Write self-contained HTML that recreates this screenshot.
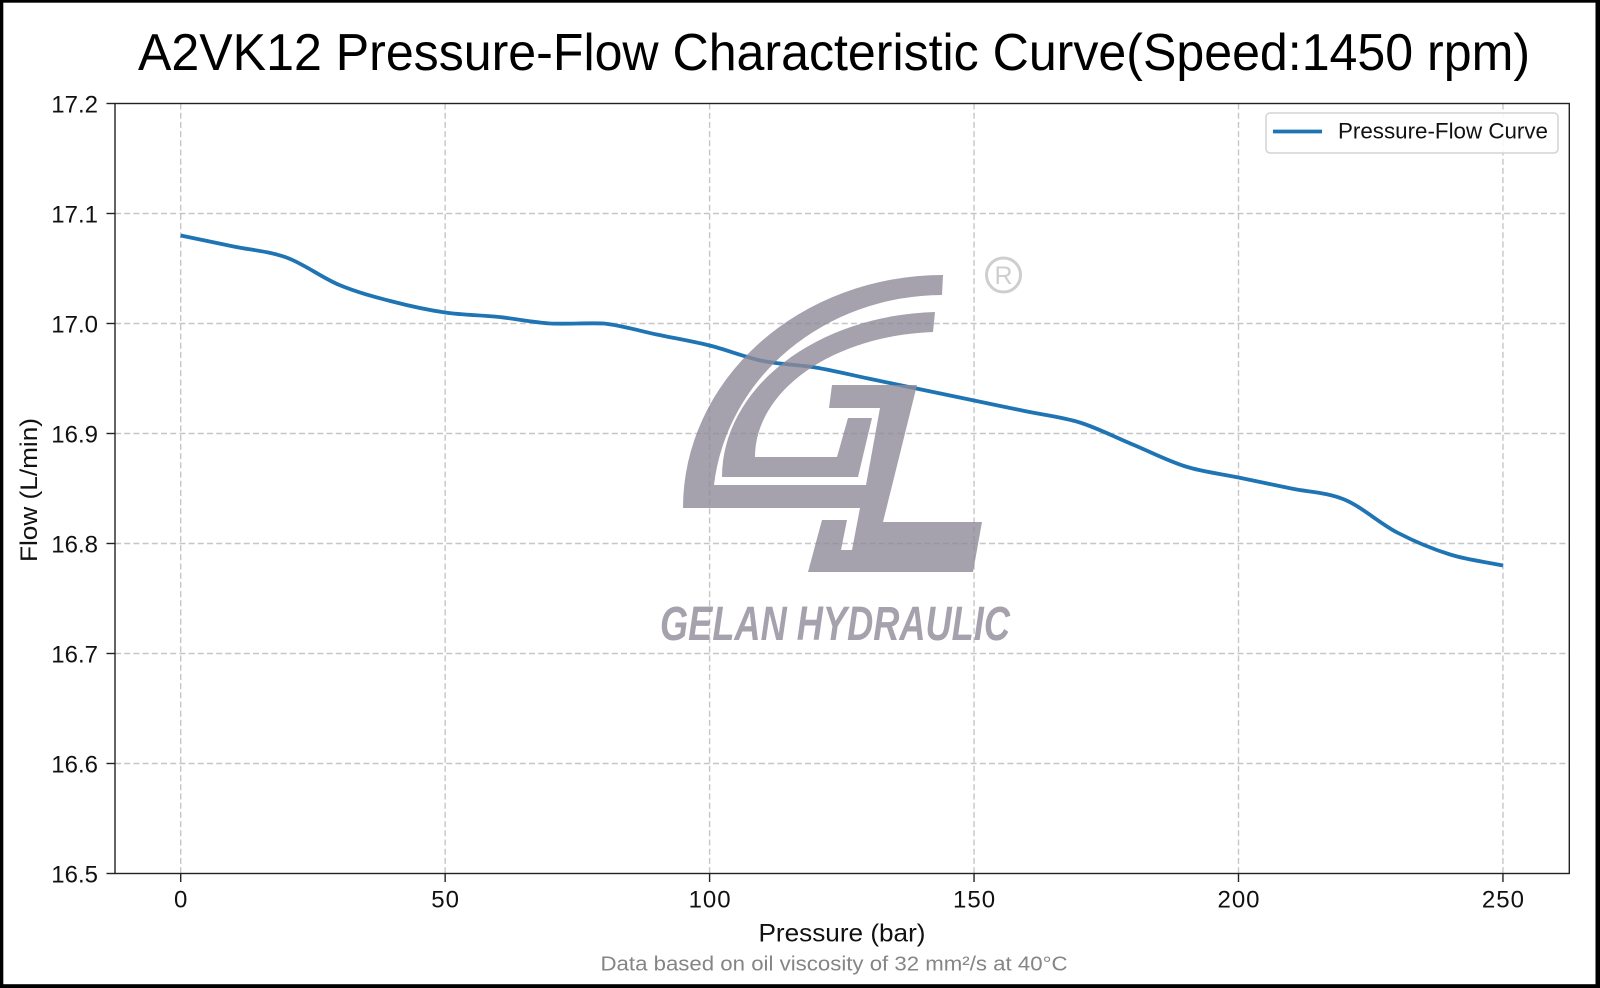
<!DOCTYPE html>
<html><head><meta charset="utf-8"><style>
html,body{margin:0;padding:0;background:#fff;}
svg{display:block;}
text{font-family:"Liberation Sans",sans-serif;}
</style></head><body>
<svg width="1600" height="988" viewBox="0 0 1600 988" xmlns="http://www.w3.org/2000/svg">
<rect x="0" y="0" width="1600" height="988" fill="#000"/>
<rect x="3.3" y="2.7" width="1592.2" height="981.5" fill="#fff"/>

<!-- title -->
<text x="834" y="70" font-size="52" text-anchor="middle" textLength="1392" lengthAdjust="spacingAndGlyphs" fill="#000">A2VK12 Pressure-Flow Characteristic Curve(Speed:1450 rpm)</text>

<!-- grid -->
<g stroke="#c6c6c6" stroke-width="1.4" stroke-dasharray="6,3.2" fill="none">
<line x1="180.7" y1="103.5" x2="180.7" y2="873.5"/>
<line x1="445.15" y1="103.5" x2="445.15" y2="873.5"/>
<line x1="709.6" y1="103.5" x2="709.6" y2="873.5"/>
<line x1="974.05" y1="103.5" x2="974.05" y2="873.5"/>
<line x1="1238.5" y1="103.5" x2="1238.5" y2="873.5"/>
<line x1="1502.95" y1="103.5" x2="1502.95" y2="873.5"/>
<line x1="115" y1="213.5" x2="1569.3" y2="213.5"/>
<line x1="115" y1="323.5" x2="1569.3" y2="323.5"/>
<line x1="115" y1="433.5" x2="1569.3" y2="433.5"/>
<line x1="115" y1="543.5" x2="1569.3" y2="543.5"/>
<line x1="115" y1="653.5" x2="1569.3" y2="653.5"/>
<line x1="115" y1="763.5" x2="1569.3" y2="763.5"/>
</g>

<!-- data curve -->
<path fill="none" stroke="#1f74b4" stroke-width="3.8" stroke-linejoin="round" stroke-linecap="butt" d="M180.7,235.5 C198.33,239.17 215.96,242.83 233.59,246.5 C251.22,250.17 268.85,251.08 286.48,257.5 C304.11,263.92 321.74,277.67 339.37,285 C357,292.33 374.63,296.92 392.26,301.5 C409.89,306.08 427.52,309.93 445.15,312.5 C462.78,315.07 480.41,315.07 498.04,316.9 C515.67,318.73 533.3,322.4 550.93,323.5 C568.56,324.2 586.19,322.8 603.82,323.5 C621.45,325.33 639.08,330.83 656.71,334.5 C674.34,338.17 691.97,341.1 709.6,345.5 C727.23,349.9 744.86,357.23 762.49,360.9 C780.12,364.57 797.75,364.57 815.38,367.5 C833.01,370.43 850.64,374.83 868.27,378.5 C885.9,382.17 903.53,385.83 921.16,389.5 C938.79,393.17 956.42,396.83 974.05,400.5 C991.68,404.17 1009.31,407.83 1026.94,411.5 C1044.57,415.17 1062.2,417 1079.83,422.5 C1097.46,428 1115.09,437.17 1132.72,444.5 C1150.35,451.83 1167.98,461 1185.61,466.5 C1203.24,472 1220.87,473.83 1238.5,477.5 C1256.13,481.17 1273.76,484.83 1291.39,488.5 C1309.02,492.17 1326.65,492.17 1344.28,499.5 C1361.91,506.83 1379.54,523.33 1397.17,532.5 C1414.8,541.67 1432.43,549 1450.06,554.5 C1467.69,560 1485.32,561.83 1502.95,565.5"/>

<!-- watermark logo -->
<g opacity="0.8" fill="#8f8a99">
<path d="M943,275 A260,233 0 0 0 683,508 L860,508 L852,550 L841,550 L847,520 L822,520 L808,572 L973,572 L982,522 L883,522 L917,385 L832,385 L829,408 L880,408 L866,485 L714,485 A230,213 0 0 1 942,295 Z"/>
<path d="M935,312 A221,165 0 0 0 722,477 L858,477 L872,418 L848,418 L837,457 L755,457 A188,125 0 0 1 933,332 Z"/>
<text x="660" y="640" font-size="48" font-weight="bold" font-style="italic" textLength="350" lengthAdjust="spacingAndGlyphs">GELAN HYDRAULIC</text>
</g>
<g opacity="0.9">
<circle cx="1003.5" cy="275" r="17" fill="none" stroke="#c9c9c9" stroke-width="3"/>
<text x="1003.5" y="284" font-size="25" text-anchor="middle" fill="#c9c9c9">R</text>
</g>

<!-- axes frame -->
<rect x="115" y="103.5" width="1454.3" height="770" fill="none" stroke="#222" stroke-width="1.4"/>

<!-- ticks -->
<g stroke="#222" stroke-width="1.4">
<line x1="180.7" y1="873.5" x2="180.7" y2="882"/>
<line x1="445.15" y1="873.5" x2="445.15" y2="882"/>
<line x1="709.6" y1="873.5" x2="709.6" y2="882"/>
<line x1="974.05" y1="873.5" x2="974.05" y2="882"/>
<line x1="1238.5" y1="873.5" x2="1238.5" y2="882"/>
<line x1="1502.95" y1="873.5" x2="1502.95" y2="882"/>
<line x1="106.5" y1="103.5" x2="115" y2="103.5"/>
<line x1="106.5" y1="213.5" x2="115" y2="213.5"/>
<line x1="106.5" y1="323.5" x2="115" y2="323.5"/>
<line x1="106.5" y1="433.5" x2="115" y2="433.5"/>
<line x1="106.5" y1="543.5" x2="115" y2="543.5"/>
<line x1="106.5" y1="653.5" x2="115" y2="653.5"/>
<line x1="106.5" y1="763.5" x2="115" y2="763.5"/>
<line x1="106.5" y1="873.5" x2="115" y2="873.5"/>
</g>

<!-- tick labels -->
<g font-size="24" fill="#111" text-anchor="middle" letter-spacing="1">
<text x="181.2" y="907.5">0</text>
<text x="445.65" y="907.5">50</text>
<text x="710.1" y="907.5">100</text>
<text x="974.55" y="907.5">150</text>
<text x="1239" y="907.5">200</text>
<text x="1503.45" y="907.5">250</text>
</g>
<g font-size="24" fill="#111" text-anchor="end">
<text x="98" y="112.5">17.2</text>
<text x="98" y="222.5">17.1</text>
<text x="98" y="332.5">17.0</text>
<text x="98" y="442.5">16.9</text>
<text x="98" y="552.5">16.8</text>
<text x="98" y="662.5">16.7</text>
<text x="98" y="772.5">16.6</text>
<text x="98" y="882.5">16.5</text>
</g>

<!-- axis labels -->
<text x="842" y="941.5" font-size="25" text-anchor="middle" fill="#111" textLength="167" lengthAdjust="spacingAndGlyphs">Pressure (bar)</text>
<text transform="translate(37,490) rotate(-90)" x="0" y="0" font-size="24" text-anchor="middle" fill="#111" textLength="144" lengthAdjust="spacingAndGlyphs">Flow (L/min)</text>
<text x="834" y="970.5" font-size="20" text-anchor="middle" fill="#858585" textLength="467" lengthAdjust="spacingAndGlyphs">Data based on oil viscosity of 32 mm²/s at 40°C</text>

<!-- legend -->
<rect x="1266" y="113" width="292" height="40" rx="4" ry="4" fill="#fff" fill-opacity="0.85" stroke="#d4d4d4" stroke-width="1.5"/>
<line x1="1273" y1="131.5" x2="1322" y2="131.5" stroke="#1f74b4" stroke-width="3.8"/>
<text x="1338" y="138.5" font-size="22" fill="#111" textLength="210" lengthAdjust="spacingAndGlyphs">Pressure-Flow Curve</text>
</svg>
</body></html>
